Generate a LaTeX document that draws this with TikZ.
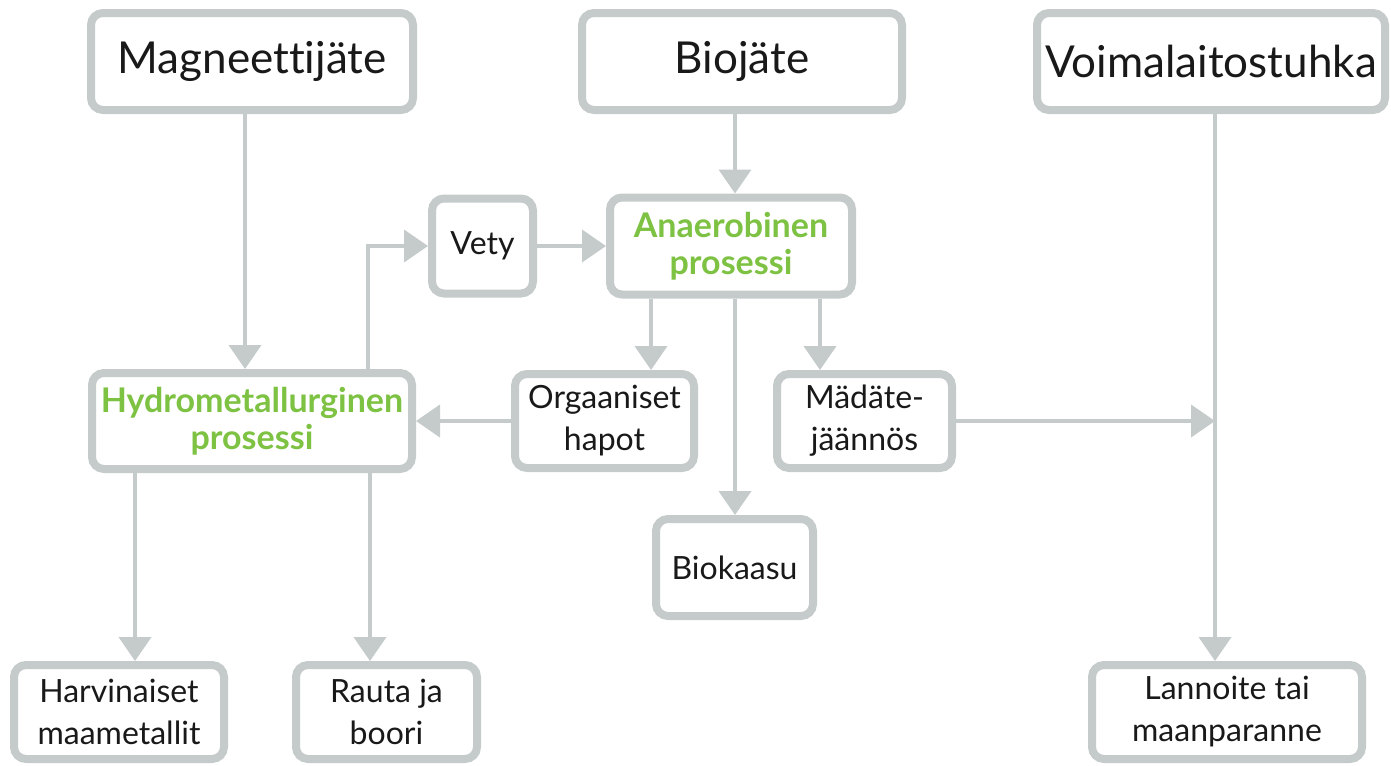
\documentclass[tikz,border=0pt]{standalone}
\usepackage{fontspec}
\setmainfont{Lato}[Ligatures=NoCommon]
\usepackage{xcolor}
\usetikzlibrary{positioning,calc,arrows.meta}
\definecolor{boxgray}{HTML}{C5CBCA}
\definecolor{procgreen}{HTML}{7DC242}
\tikzset{
    box/.style 2 args={draw=boxgray, line width=6pt, rounded corners=9pt, fill=white,
        minimum width=#1*0.75pt, minimum height=#2*0.75pt, inner sep=0pt,
        align=center, text=black!90},
    bigtext/.style={font=\fontsize{33}{40}\selectfont},
    smalltext/.style={font=\fontsize{24}{31.5}\selectfont},
    proctext/.style={font=\fontsize{25.5}{28}\selectfont\bfseries, text=procgreen},
    arr/.style={draw=boxgray, line width=3pt, -{Triangle[length=18pt,width=24pt]}},
    ln/.style={draw=boxgray, line width=3pt}
}
\begin{document}
\begin{tikzpicture}[x=0.75pt,y=-0.75pt]
    \useasboundingbox (0,0) rectangle (1391,765);

    % sources
    \node[box={322}{97}, bigtext] (mag) at (252,61.5) {Magneettijäte};
    \node[box={320}{97}, bigtext] (bio) at (742,61.5) {Biojäte};
    \node[box={348}{97}, bigtext] (voim) at (1211,61.5) {Voimalaitostuhka};

    % processes
    \node[box={101}{95}, smalltext] (vety) at (482.5,246) {Vety};
    \node[box={242}{97}, proctext] (anaer) at (731,246) {Anaerobinen\\prosessi};
    \node[box={320}{96}, proctext] (hydro) at (252,421) {Hydrometallurginen\\prosessi};
    \node[box={179}{94}, smalltext] (org) at (604.5,421) {Orgaaniset\\hapot};
    \node[box={175}{94}, smalltext] (mad) at (864.5,421) {Mädäte-\\jäännös};
    \node[box={157}{97}, smalltext] (kaasu) at (734.5,567.5) {Biokaasu};

    % products
    \node[box={210}{94}, smalltext, text depth=0.5pt] (harv) at (119,712) {Harvinaiset\\maametallit};
    \node[box={181}{94}, smalltext] (rauta) at (386.5,712) {Rauta ja\\boori};
    \node[box={270}{94}, smalltext] (lann) at (1227,712) {Lannoite tai\\maanparanne};

    % columns of the connectors
    \coordinate (xmag) at (245,0);
    \coordinate (xbio) at (735,0);
    \coordinate (xup) at (368,0);
    \coordinate (xorg) at (651,0);
    \coordinate (xmad) at (820,0);
    \coordinate (xvoim) at (1215,0);
    \coordinate (xharv) at (135,0);
    \coordinate (xrauta) at (370,0);

    % connectors
    \draw[arr] (mag.south -| xmag) -- (hydro.north -| xmag);
    \draw[arr] (bio.south -| xbio) -- (anaer.north -| xbio);
    \draw[arr] (hydro.north -| xup) |- (vety.west);
    \draw[arr] (vety.east) -- (vety.east -| anaer.west);
    \draw[arr] (anaer.south -| xorg) -- (org.north -| xorg);
    \draw[arr] (anaer.south -| xbio) -- (kaasu.north -| xbio);
    \draw[arr] (anaer.south -| xmad) -- (mad.north -| xmad);
    \draw[arr] (org.west) -- (org.west -| hydro.east);
    \draw[arr] (voim.south -| xvoim) -- (lann.north -| xvoim);
    \coordinate (meet) at (mad.east -| xvoim);
    \draw[arr] (mad.east) -- (meet);
    \draw[arr] (hydro.south -| xharv) -- (harv.north -| xharv);
    \draw[arr] (hydro.south -| xrauta) -- (rauta.north -| xrauta);
\end{tikzpicture}
\end{document}
